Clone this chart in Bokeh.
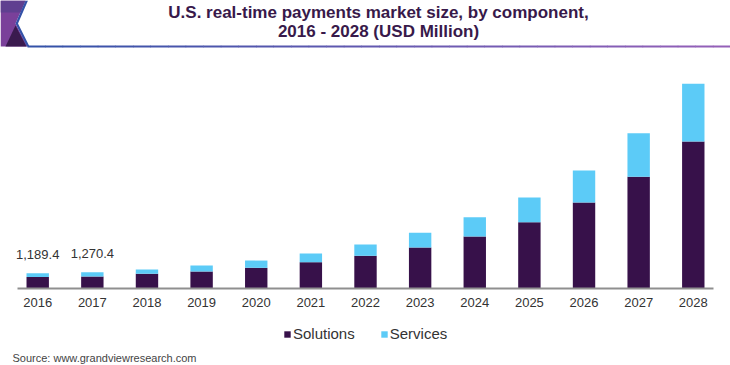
from bokeh.plotting import figure
from bokeh.models import (FactorRange, Range1d, Label, Legend, LegendItem,
                          ColumnDataSource, BoxAnnotation, PolyAnnotation)
from bokeh.embed import file_html
from bokeh.resources import INLINE

# ---------------- data ----------------
years = ["2016", "2017", "2018", "2019", "2020", "2021", "2022",
         "2023", "2024", "2025", "2026", "2027", "2028"]
solutions = [890, 940, 1150, 1330, 1610, 2050, 2550, 3200, 4060, 5170, 6710, 8710, 11470]
services = [299.4, 330.4, 330, 470, 570, 680, 880, 1140, 1500, 1930, 2490, 3400, 4500]
series_names = ["Solutions", "Services"]
label_years = ["2016", "2017"]
label_values = [1189.4, 1270.4]
label_texts = ["1,189.4", "1,270.4"]
title_lines = ["U.S. real-time payments market size, by component,",
               "2016 - 2028 (USD Million)"]
source_text = "Source: www.grandviewresearch.com"

# ---------------- style ----------------
FONT = "Liberation Sans"
C_SOL = "#37114a"
C_SER = "#5ccbf7"
TEXT = "#333333"
W, H = 730, 365

p = figure(width=W, height=H,
           x_range=FactorRange(*years, range_padding=0.1812, range_padding_units="absolute"),
           y_range=Range1d(-6006, 22464),
           y_axis_location=None,
           output_backend="svg", toolbar_location=None,
           min_border=0)
p.outline_line_color = None
p.xgrid.visible = False
p.ygrid.visible = False
p.background_fill_color = "white"
p.border_fill_color = "white"

src = ColumnDataSource(dict(years=years, Solutions=solutions, Services=services))
rs = p.vbar_stack(series_names, x="years", width=0.41, color=[C_SOL, C_SER],
                  line_color=None, source=src)

p.text(x=label_years, y=label_values, text=label_texts, text_align="center",
       text_baseline="middle", y_offset=-19, text_font_size="13px",
       text_color=TEXT, text_font={"value": FONT})

ax = p.xaxis[0]
ax.fixed_location = 0
ax.bounds = (0.13, 12.87)
ax.axis_line_color = "#8f8f8f"
ax.axis_line_width = 2
ax.major_tick_line_color = None
ax.minor_tick_line_color = None
ax.major_label_text_font = FONT
ax.major_label_text_font_size = "13px"
ax.major_label_text_color = TEXT
ax.major_label_standoff = 3

# screen coords: relative to frame (= whole canvas), y measured from bottom
def sx(x):
    return x

def sy(y):
    return H - y

legend = Legend(items=[LegendItem(label=series_names[0], renderers=[rs[0]]),
                       LegendItem(label=series_names[1], renderers=[rs[1]])],
                orientation="horizontal", location=(sx(283), sy(342)),
                glyph_width=8, glyph_height=8, label_standoff=2, spacing=25,
                padding=0, margin=0, border_line_color=None,
                background_fill_alpha=0, label_height=8,
                label_text_font=FONT, label_text_font_size="15px",
                label_text_color=TEXT)
p.add_layout(legend, "center")

for line, yy in zip(title_lines, [12, 31]):
    p.add_layout(Label(x=sx(378), y=sy(yy), x_units="screen", y_units="screen",
                       text=line, text_align="center", text_baseline="middle",
                       text_font=FONT, text_font_style="bold", text_font_size="17px",
                       text_color="#38194a"))

p.add_layout(Label(x=sx(12), y=sy(357), x_units="screen", y_units="screen",
                   text=source_text, text_align="left", text_baseline="middle",
                   text_font=FONT, text_font_size="11px", text_color="#444444"))

# header decoration
def poly(pts, color):
    p.add_layout(PolyAnnotation(xs=[sx(a) for a, b in pts], ys=[sy(b) for a, b in pts],
                                xs_units="screen", ys_units="screen",
                                fill_color=color, fill_alpha=1, line_color=None))

poly([(0, 0), (25, 0), (15, 23), (27, 46), (0, 46)], "#7a409a")
poly([(0, 0), (25, 0), (20, 12), (0, 12)], "#5f3f90")
poly([(5, 46), (15, 25), (26, 46)], "#3a1a4e")
poly([(25, 0), (27.5, 0), (17.5, 23), (29, 46), (26.5, 46), (15, 23)], "#3452a8")

N = 40
c0 = (0x34, 0x52, 0xa8)
c1 = (0x94, 0x60, 0xb8)
x0, x1 = 27, 730
for i in range(N):
    t = i / (N - 1)
    col = "#%02x%02x%02x" % tuple(int(round(a + (b - a) * t)) for a, b in zip(c0, c1))
    l = x0 + (x1 - x0) * i / N
    r = x0 + (x1 - x0) * (i + 1) / N + 0.5
    p.add_layout(BoxAnnotation(left=sx(l), right=sx(r), top=sy(45), bottom=sy(47),
                               left_units="screen", right_units="screen",
                               top_units="screen", bottom_units="screen",
                               fill_color=col, fill_alpha=1, line_color=None))

open("out.html", "w").write(file_html(p, INLINE))
